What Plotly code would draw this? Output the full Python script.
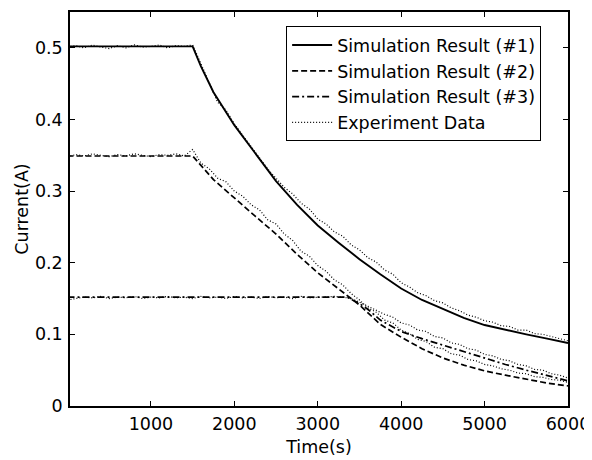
import plotly.graph_objects as go

# ---- simulation curves ----
sim1_t = [0, 1500, 1600, 1750, 2000, 2250, 2500, 2750, 3000, 3250, 3500, 3750, 4000,
          4250, 4500, 4750, 5000, 5250, 5500, 5750, 6000]
sim1_i = [0.502, 0.502, 0.474, 0.438, 0.392, 0.353, 0.314, 0.281, 0.252, 0.228, 0.205,
          0.184, 0.164, 0.148, 0.136, 0.123, 0.113, 0.106, 0.100, 0.094, 0.088]

sim2_t = [0, 1500, 1750, 2000, 2250, 2500, 2750, 3000, 3250, 3500, 3750, 4000, 4250,
          4500, 4750, 5000, 5250, 5500, 5750, 6000]
sim2_i = [0.349, 0.349, 0.316, 0.290, 0.265, 0.240, 0.212, 0.186, 0.164, 0.141, 0.114,
          0.096, 0.080, 0.067, 0.057, 0.049, 0.043, 0.037, 0.032, 0.028]

sim3_t = [0, 3350, 3500, 3600, 3750, 4000, 4250, 4500, 4750, 5000, 5250, 5500, 5750, 6000]
sim3_i = [0.152, 0.152, 0.143, 0.135, 0.120, 0.104, 0.094, 0.085, 0.075, 0.066, 0.058,
          0.050, 0.042, 0.035]

# ---- experiment data ----
exp_t = [0, 100, 200, 300, 400, 500, 600, 700, 800, 900, 1000, 1100, 1200, 1300, 1400,
         1500, 1600, 1700, 1800, 1900, 2000, 2100, 2200, 2300, 2400, 2500, 2600, 2700,
         2800, 2900, 3000, 3100, 3200, 3300, 3400, 3500, 3600, 3700, 3800, 3900, 4000,
         4100, 4200, 4300, 4400, 4500, 4600, 4700, 4800, 4900, 5000, 5100, 5200, 5300,
         5400, 5500, 5600, 5700, 5800, 5900, 6000]
exp1_i = [0.501, 0.503, 0.500, 0.504, 0.501, 0.499, 0.503, 0.500, 0.504, 0.501, 0.502,
          0.504, 0.500, 0.503, 0.502, 0.504,
          0.478, 0.452, 0.424, 0.413, 0.394, 0.378, 0.362, 0.347, 0.331, 0.318,
          0.305, 0.296, 0.283, 0.275, 0.261, 0.254, 0.243, 0.237, 0.225, 0.218,
          0.207, 0.201, 0.190, 0.184, 0.172, 0.166, 0.158, 0.154, 0.147, 0.144,
          0.137, 0.133, 0.127, 0.124, 0.119, 0.117, 0.112, 0.111, 0.106, 0.106,
          0.101, 0.100, 0.097, 0.095, 0.091]
exp2_i = [0.348, 0.351, 0.349, 0.352, 0.350, 0.348, 0.351, 0.349, 0.352, 0.350, 0.348,
          0.351, 0.350, 0.352, 0.349, 0.358,
          0.339, 0.331, 0.318, 0.313, 0.300, 0.293, 0.281, 0.274, 0.260, 0.254,
          0.240, 0.231, 0.216, 0.209, 0.196, 0.188, 0.176, 0.169, 0.157, 0.148,
          0.137, 0.131, 0.120, 0.116, 0.106, 0.101, 0.093, 0.090, 0.082, 0.080,
          0.073, 0.071, 0.065, 0.063, 0.058, 0.056, 0.052, 0.050, 0.046, 0.045,
          0.041, 0.040, 0.037, 0.036, 0.033]
exp3_i = [0.148, 0.150, 0.152, 0.151, 0.153, 0.150, 0.152, 0.151, 0.153, 0.150,
          0.152, 0.151, 0.153, 0.151, 0.152, 0.150, 0.153, 0.151, 0.152, 0.150,
          0.153, 0.151, 0.152, 0.150, 0.153, 0.151, 0.152, 0.150, 0.153, 0.151,
          0.152, 0.152, 0.153, 0.152,
          0.150, 0.145, 0.139, 0.134, 0.128, 0.124, 0.116, 0.113, 0.106, 0.104,
          0.097, 0.095, 0.088, 0.086, 0.080, 0.078, 0.072, 0.070, 0.065, 0.063,
          0.058, 0.056, 0.051, 0.050, 0.045, 0.043, 0.039]

x_ticks = [1000, 2000, 3000, 4000, 5000, 6000]
y_ticks = [0, 0.1, 0.2, 0.3, 0.4, 0.5]
y_tick_text = ["0", "0.1", "0.2", "0.3", "0.4", "0.5"]

series_names = ["Simulation Result (#1)", "Simulation Result (#2)",
                "Simulation Result (#3)", "Experiment Data"]

FONT = "DejaVu Sans, Liberation Sans, Arial, sans-serif"
FS = 17.5

fig = go.Figure()
fig.add_trace(go.Scatter(x=sim1_t, y=sim1_i, mode="lines", name=series_names[0],
                         line=dict(color="black", width=1.9, dash="solid")))
fig.add_trace(go.Scatter(x=sim2_t, y=sim2_i, mode="lines", name=series_names[1],
                         line=dict(color="black", width=1.7, dash="6px,3px")))
fig.add_trace(go.Scatter(x=sim3_t, y=sim3_i, mode="lines", name=series_names[2],
                         line=dict(color="black", width=1.7, dash="7px,3px,2px,3px")))
fig.add_trace(go.Scatter(x=exp_t, y=exp1_i, mode="lines", name=series_names[3],
                         line=dict(color="black", width=1.2, dash="1px,2px")))
fig.add_trace(go.Scatter(x=exp_t, y=exp2_i, mode="lines", showlegend=False,
                         line=dict(color="black", width=1.2, dash="1px,2px")))
fig.add_trace(go.Scatter(x=exp_t, y=exp3_i, mode="lines", showlegend=False,
                         line=dict(color="black", width=1.2, dash="1px,2px")))

axis_common = dict(showline=True, linecolor="black", linewidth=1.5, mirror="ticks",
                   ticks="inside", ticklen=5, tickcolor="black", tickwidth=1,
                   showgrid=False, zeroline=False, automargin=False,
                   tickfont=dict(family=FONT, size=FS, color="black"))

# the page body has an 8px margin, so the figure is sized to fit the window
fig.update_layout(
    width=584, height=452,
    margin=dict(l=62, r=24, t=4, b=54),
    paper_bgcolor="white", plot_bgcolor="white",
    font=dict(family=FONT, size=FS, color="black"),
    xaxis=dict(range=[30, 6000], tickvals=x_ticks, ticklabelstandoff=1,
               title=dict(text="Time(s)", font=dict(family=FONT, size=FS), standoff=8),
               **axis_common),
    yaxis=dict(range=[0, 0.55], tickvals=y_ticks, ticktext=y_tick_text, ticklabelstandoff=2,
               title=dict(text="Current(A)", font=dict(family=FONT, size=FS), standoff=2),
               **axis_common),
    legend=dict(x=0.434, y=0.964, xanchor="left", yanchor="top",
                bgcolor="white", bordercolor="black", borderwidth=1, itemwidth=40,
                font=dict(family=FONT, size=FS), tracegroupgap=0),
    showlegend=True,
)

fig.write_html("out.html")
